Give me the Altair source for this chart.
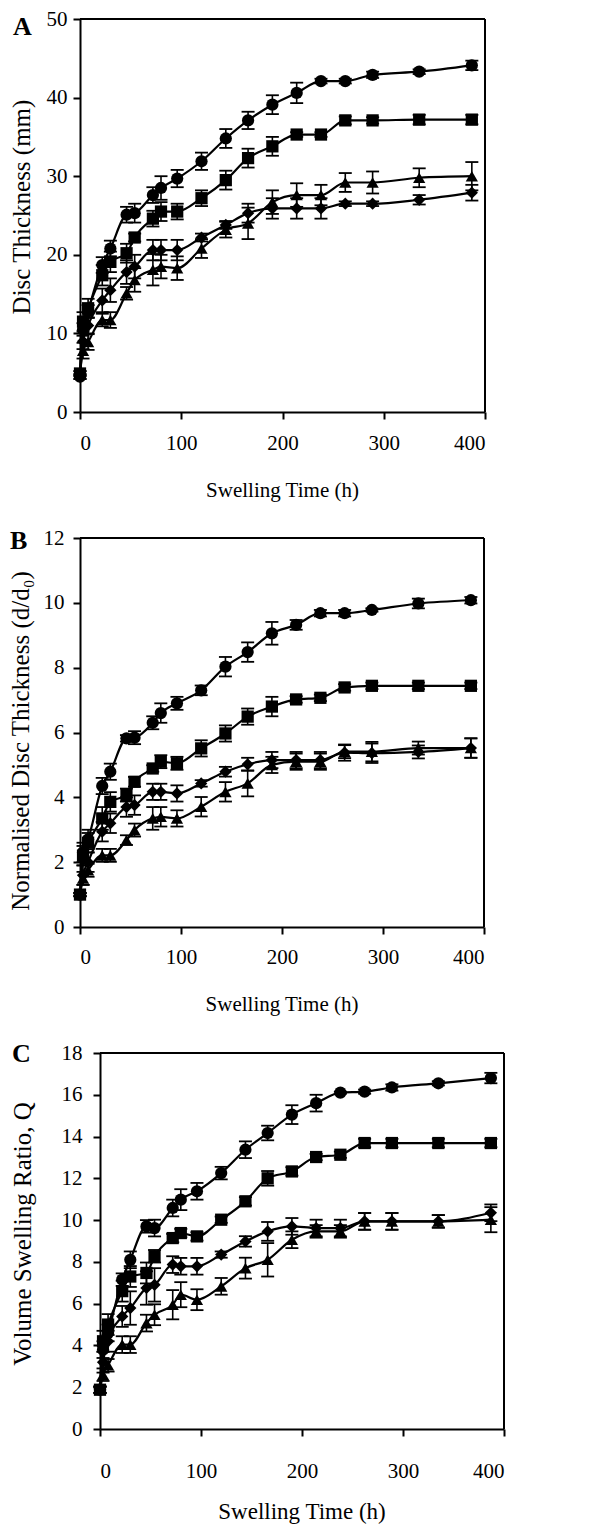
import altair as alt
import pandas as pd

# ---------------- data ----------------
times = [0, 3, 8, 22, 30, 46, 54, 72, 80, 96, 120, 144, 166, 190, 214, 238, 262, 289, 335, 387]
series_names = ["circle", "square", "diamond", "triangle"]
shape_range = ["circle", "square", "diamond", "triangle-up"]

# Panel A: Disc thickness (mm)
a_circle = [4.5, 10.5, 12.8, 18.7, 20.8, 25.1, 25.3, 27.6, 28.5, 29.7, 31.9, 34.8, 37.1, 39.1, 40.6, 42.1, 42.1, 42.9, 43.3, 44.1]
a_square = [4.9, 11.5, 13.2, 17.4, 19.1, 20.2, 22.2, 24.6, 25.5, 25.5, 27.2, 29.5, 32.3, 33.8, 35.3, 35.3, 37.1, 37.1, 37.2, 37.2]
a_diamond = [4.5, 9.0, 11.0, 14.2, 15.5, 17.8, 18.5, 20.6, 20.6, 20.6, 22.2, 23.8, 25.3, 25.9, 25.9, 25.9, 26.5, 26.5, 27.0, 27.9]
a_triangle = [4.9, 7.8, 8.9, 11.7, 11.7, 15.1, 16.8, 18.1, 18.5, 18.3, 20.8, 23.2, 24.0, 26.7, 27.6, 27.6, 29.2, 29.2, 29.8, 30.0]
a_circle_err = [0.3, 0.8, 0.8, 1.0, 1.0, 1.0, 1.2, 1.0, 1.5, 1.1, 1.1, 1.2, 1.1, 1.2, 1.3, 0.3, 0.3, 0.4, 0.3, 0.6]
a_square_err = [0.3, 1.2, 1.2, 1.3, 1.3, 1.2, 0.5, 1.0, 1.2, 1.0, 1.0, 1.2, 1.2, 1.2, 0.3, 0.3, 0.5, 0.4, 0.6, 0.6]
a_diamond_err = [0.3, 1.0, 1.0, 1.5, 1.5, 1.5, 1.5, 1.3, 1.3, 1.3, 0.5, 0.5, 1.2, 1.3, 1.3, 1.3, 0.3, 0.3, 0.6, 1.0]
a_triangle_err = [0.3, 1.0, 1.0, 0.8, 1.0, 0.8, 1.5, 2.0, 1.5, 1.5, 1.2, 1.0, 2.0, 1.5, 1.5, 1.3, 1.2, 1.4, 1.2, 1.8]

# Panel B: Normalised disc thickness (d/d0)
b_circle = [1.0, 2.3, 2.7, 4.35, 4.79, 5.82, 5.84, 6.3, 6.6, 6.9, 7.3, 8.03, 8.48, 9.06, 9.32, 9.68, 9.68, 9.78, 9.98, 10.08]
b_square = [1.0, 2.2, 2.6, 3.35, 3.86, 4.07, 4.48, 4.89, 5.1, 5.05, 5.51, 5.97, 6.49, 6.8, 7.02, 7.07, 7.39, 7.44, 7.44, 7.44]
b_diamond = [1.0, 1.6, 2.0, 2.94, 3.2, 3.7, 3.76, 4.17, 4.17, 4.12, 4.43, 4.79, 5.02, 5.15, 5.15, 5.15, 5.38, 5.36, 5.4, 5.52]
b_triangle = [1.0, 1.5, 1.75, 2.21, 2.21, 2.68, 2.99, 3.35, 3.4, 3.35, 3.71, 4.17, 4.43, 5.0, 5.1, 5.1, 5.41, 5.41, 5.52, 5.52]
b_circle_err = [0.05, 0.3, 0.3, 0.25, 0.25, 0.1, 0.2, 0.2, 0.3, 0.2, 0.15, 0.3, 0.3, 0.35, 0.15, 0.1, 0.1, 0.05, 0.15, 0.1]
b_square_err = [0.05, 0.3, 0.3, 0.35, 0.3, 0.2, 0.15, 0.1, 0.2, 0.2, 0.25, 0.25, 0.25, 0.3, 0.1, 0.1, 0.1, 0.1, 0.1, 0.1]
b_diamond_err = [0.05, 0.3, 0.3, 0.3, 0.3, 0.3, 0.3, 0.25, 0.25, 0.25, 0.1, 0.15, 0.2, 0.25, 0.25, 0.25, 0.25, 0.3, 0.2, 0.3]
b_triangle_err = [0.05, 0.2, 0.2, 0.2, 0.2, 0.15, 0.2, 0.35, 0.3, 0.25, 0.3, 0.3, 0.4, 0.25, 0.25, 0.25, 0.2, 0.3, 0.2, 0.3]

# Panel C: Volume swelling ratio Q
c_circle = [1.88, 3.8, 4.6, 7.15, 8.1, 9.7, 9.62, 10.58, 10.98, 11.38, 12.25, 13.37, 14.17, 15.05, 15.6, 16.1, 16.15, 16.35, 16.55, 16.8]
c_square = [1.88, 4.2, 5.0, 6.6, 7.3, 7.47, 8.27, 9.14, 9.38, 9.22, 10.02, 10.9, 12.0, 12.33, 13.02, 13.13, 13.69, 13.69, 13.69, 13.69]
c_diamond = [1.88, 3.2, 4.2, 5.39, 5.79, 6.75, 6.9, 7.87, 7.79, 7.79, 8.35, 8.98, 9.46, 9.7, 9.62, 9.62, 9.94, 9.94, 9.94, 10.35]
c_triangle = [1.88, 2.6, 3.05, 4.04, 4.04, 5.07, 5.47, 5.95, 6.43, 6.19, 6.83, 7.7, 8.1, 9.06, 9.46, 9.46, 9.94, 9.94, 9.94, 10.02]
c_circle_err = [0.15, 0.4, 0.4, 0.3, 0.4, 0.3, 0.4, 0.4, 0.5, 0.4, 0.3, 0.4, 0.35, 0.45, 0.4, 0.05, 0.1, 0.15, 0.1, 0.25]
c_square_err = [0.15, 0.5, 0.5, 0.5, 0.5, 0.5, 0.3, 0.2, 0.2, 0.2, 0.15, 0.2, 0.35, 0.2, 0.15, 0.15, 0.2, 0.2, 0.2, 0.2]
c_diamond_err = [0.15, 0.5, 0.5, 0.5, 0.8, 0.8, 0.8, 0.4, 0.4, 0.4, 0.15, 0.25, 0.45, 0.4, 0.4, 0.4, 0.4, 0.4, 0.3, 0.4]
c_triangle_err = [0.15, 0.3, 0.3, 0.4, 0.4, 0.4, 0.5, 0.7, 0.6, 0.5, 0.4, 0.5, 0.8, 0.4, 0.3, 0.3, 0.4, 0.4, 0.3, 0.6]

x_ticks = [0, 100, 200, 300, 400]
FONT = "Liberation Serif"


def build_df(vals, errs):
    rows = []
    for name, v_list, e_list in zip(series_names, vals, errs):
        for t, v, e in zip(times, v_list, e_list):
            rows.append({"t": t, "v": v, "lo": v - e, "hi": v + e, "s": name})
    return pd.DataFrame(rows)


def panel(vals, errs, ymax, ystep, w, h, shift, letter, letter_pos, ytitle, ytitle_pos,
          ytitle_size, xtitle_y, xlab_pad, ylab_pad, xtitle_size):
    df = build_df(vals, errs)
    base = alt.Chart(df)
    total_w = w + shift
    x = alt.X("t:Q", scale=alt.Scale(domain=[0, 400], nice=False, range=[shift, total_w]),
              axis=alt.Axis(values=x_ticks, title=None, labelPadding=xlab_pad, tickSize=7))

    def yenc(field):
        return alt.Y(f"{field}:Q", scale=alt.Scale(domain=[0, ymax], nice=False),
                     axis=alt.Axis(values=list(range(0, ymax + 1, ystep)), title=None,
                                   labelPadding=ylab_pad, tickSize=7, offset=-shift))

    err = base.mark_rule(color="black", strokeWidth=1.6).encode(x=x, y=yenc("lo"), y2="hi:Q")
    cap_hi = base.mark_tick(orient="horizontal", color="black", thickness=1.8, size=13, opacity=1).encode(x=x, y=yenc("hi"))
    cap_lo = base.mark_tick(orient="horizontal", color="black", thickness=1.8, size=13, opacity=1).encode(x=x, y=yenc("lo"))
    line = base.mark_line(color="black", strokeWidth=2.2, interpolate="monotone").encode(
        x=x, y=yenc("v"), detail="s:N")
    pts = base.mark_point(filled=True, opacity=1, color="black", size=150).encode(
        x=x, y=yenc("v"),
        shape=alt.Shape("s:N", scale=alt.Scale(domain=series_names, range=shape_range), legend=None))

    one = pd.DataFrame({"k": [0]})
    frame_top = alt.Chart(one).mark_rule(color="black", strokeWidth=2).encode(
        x=alt.value(shift), x2=alt.value(total_w), y=alt.value(0))
    frame_right = alt.Chart(one).mark_rule(color="black", strokeWidth=2).encode(
        x=alt.value(total_w), y=alt.value(0), y2=alt.value(h))

    letter_txt = alt.Chart(pd.DataFrame({"txt": [letter]})).mark_text(
        font=FONT, fontSize=26, fontWeight="bold", align="left", baseline="middle", color="black"
    ).encode(x=alt.value(letter_pos[0]), y=alt.value(letter_pos[1]), text="txt:N")
    ytitle_txt = alt.Chart(pd.DataFrame({"txt": [ytitle]})).mark_text(
        font=FONT, fontSize=ytitle_size, angle=270, align="center", baseline="middle", color="black"
    ).encode(x=alt.value(ytitle_pos[0]), y=alt.value(ytitle_pos[1]), text="txt:N")
    xtitle_txt = alt.Chart(pd.DataFrame({"txt": ["Swelling Time (h)"]})).mark_text(
        font=FONT, fontSize=xtitle_size, align="center", baseline="middle", color="black"
    ).encode(x=alt.value(shift + w / 2), y=alt.value(xtitle_y), text="txt:N")

    return alt.layer(frame_top, frame_right, err, cap_hi, cap_lo, line, pts,
                     letter_txt, ytitle_txt, xtitle_txt).properties(width=total_w, height=h)


pA = panel([a_circle, a_square, a_diamond, a_triangle],
           [a_circle_err, a_square_err, a_diamond_err, a_triangle_err],
           50, 10, 405, 393, 0, "A", (-67, 8), "Disc Thickness (mm)", (-58, 188), 25,
           472, 13.5, 6, 21)
pB = panel([b_circle, b_square, b_diamond, b_triangle],
           [b_circle_err, b_square_err, b_diamond_err, b_triangle_err],
           12, 2, 404, 389, 0, "B", (-70, 3), "Normalised Disc Thickness (d/d\u2080)", (-59, 203), 25,
           467, 12.5, 9, 21)
pC = panel([c_circle, c_square, c_diamond, c_triangle],
           [c_circle_err, c_square_err, c_diamond_err, c_triangle_err],
           18, 2, 404, 376, 20, "C", (-68, 1), "Volume Swelling Ratio, Q", (-57, 181), 25,
           459, 24.5, 11, 23)

chart = alt.vconcat(pA, pB, pC, spacing=26).properties(
    padding={"left": 0, "top": 0, "right": 5, "bottom": 5}
).configure_view(
    strokeWidth=0
).configure_axis(
    labelFont=FONT, labelFontSize=21, labelColor="black",
    domainColor="black", domainWidth=2, tickColor="black", tickWidth=2, grid=False
)

chart.save("out.html", embed_options={"renderer": "svg", "actions": False})
